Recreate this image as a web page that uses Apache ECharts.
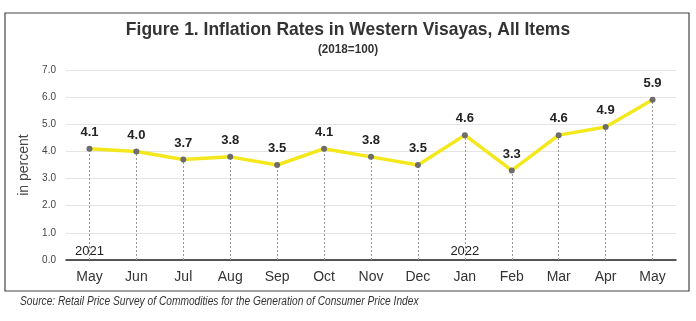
<!DOCTYPE html>
<html><head><meta charset="utf-8">
<script src="https://cdn.jsdelivr.net/npm/echarts@6/dist/echarts.min.js"></script>
<style>html,body{margin:0;padding:0;background:#fff}#c{width:696px;height:321px}</style>
</head><body><div id="c"></div>
<script>
var categories = ['May','Jun','Jul','Aug','Sep','Oct','Nov','Dec','Jan','Feb','Mar','Apr','May'];
var values = [4.1,4.0,3.7,3.8,3.5,4.1,3.8,3.5,4.6,3.3,4.6,4.9,5.9];
var yearLabels = [{idx:0, text:'2021'},{idx:8, text:'2022'}];
var yTicks = {min:0, max:7, interval:1};

var chart = echarts.init(document.getElementById('c'));
var dropLines = values.map(function(v,i){ return [{coord:[i,0]},{coord:[i,v]}]; });
var yearPts = yearLabels.map(function(y){ return {coord:[y.idx,0.3], value:y.text}; });
chart.setOption({
  animation:false,
  textStyle:{fontFamily:'Liberation Sans, Arial, sans-serif'},
  graphic:[
    {type:'rect', shape:{x:5,y:13,width:684,height:278}, style:{fill:'none', stroke:'#444', lineWidth:1.2}},
    {type:'text', x:348, y:30, scaleX:0.92, style:{text:'Figure 1. Inflation Rates in Western Visayas, All Items', font:'bold 19px "Liberation Sans", Arial', fill:'#333', align:'center', verticalAlign:'middle'}},
    {type:'text', x:348, y:49, scaleX:0.9, style:{text:'(2018=100)', font:'bold 13px "Liberation Sans", Arial', fill:'#333', align:'center', verticalAlign:'middle'}},
    {type:'text', x:20, y:302, scaleX:0.85, style:{text:'Source: Retail Price Survey of Commodities for the Generation of Consumer Price Index', font:'italic 12px "Liberation Sans", Arial', fill:'#333', align:'left', verticalAlign:'middle'}}
  ],
  grid:{left:66, right:20, top:70, bottom:61, containLabel:false},
  xAxis:{type:'category', data:categories, boundaryGap:true,
    axisLine:{lineStyle:{color:'#222', width:1.5}}, axisTick:{show:false},
    axisLabel:{color:'#333', fontSize:14, margin:10}},
  yAxis:{type:'value', min:yTicks.min, max:yTicks.max, interval:yTicks.interval,
    name:'in percent', nameLocation:'middle', nameGap:33, nameTextStyle:{fontSize:14, color:'#444'},
    axisLabel:{color:'#444', fontSize:10, formatter:function(v){return v.toFixed(1);}, margin:10},
    splitLine:{lineStyle:{color:'#e4e4e4'}}, axisLine:{show:false}, axisTick:{show:false}},
  series:[{
    type:'line', data:values, symbol:'circle', symbolSize:6,
    lineStyle:{color:'#f4e81c', width:3.5},
    itemStyle:{color:'#6d6d6d'},
    label:{show:true, position:'top', distance:7, fontWeight:'bold', fontSize:13, color:'#222',
      formatter:function(p){return p.value.toFixed(1);}},
    markLine:{silent:true, symbol:'none', label:{show:false},
      lineStyle:{color:'#999', type:[2,2], width:1}, data:dropLines, z:1},
    markPoint:{symbol:'circle', symbolSize:0, silent:true,
      label:{show:true, color:'#222', fontSize:13, formatter:function(p){return p.value;}},
      data:yearPts},
    z:3
  }]
});
</script></body></html>
